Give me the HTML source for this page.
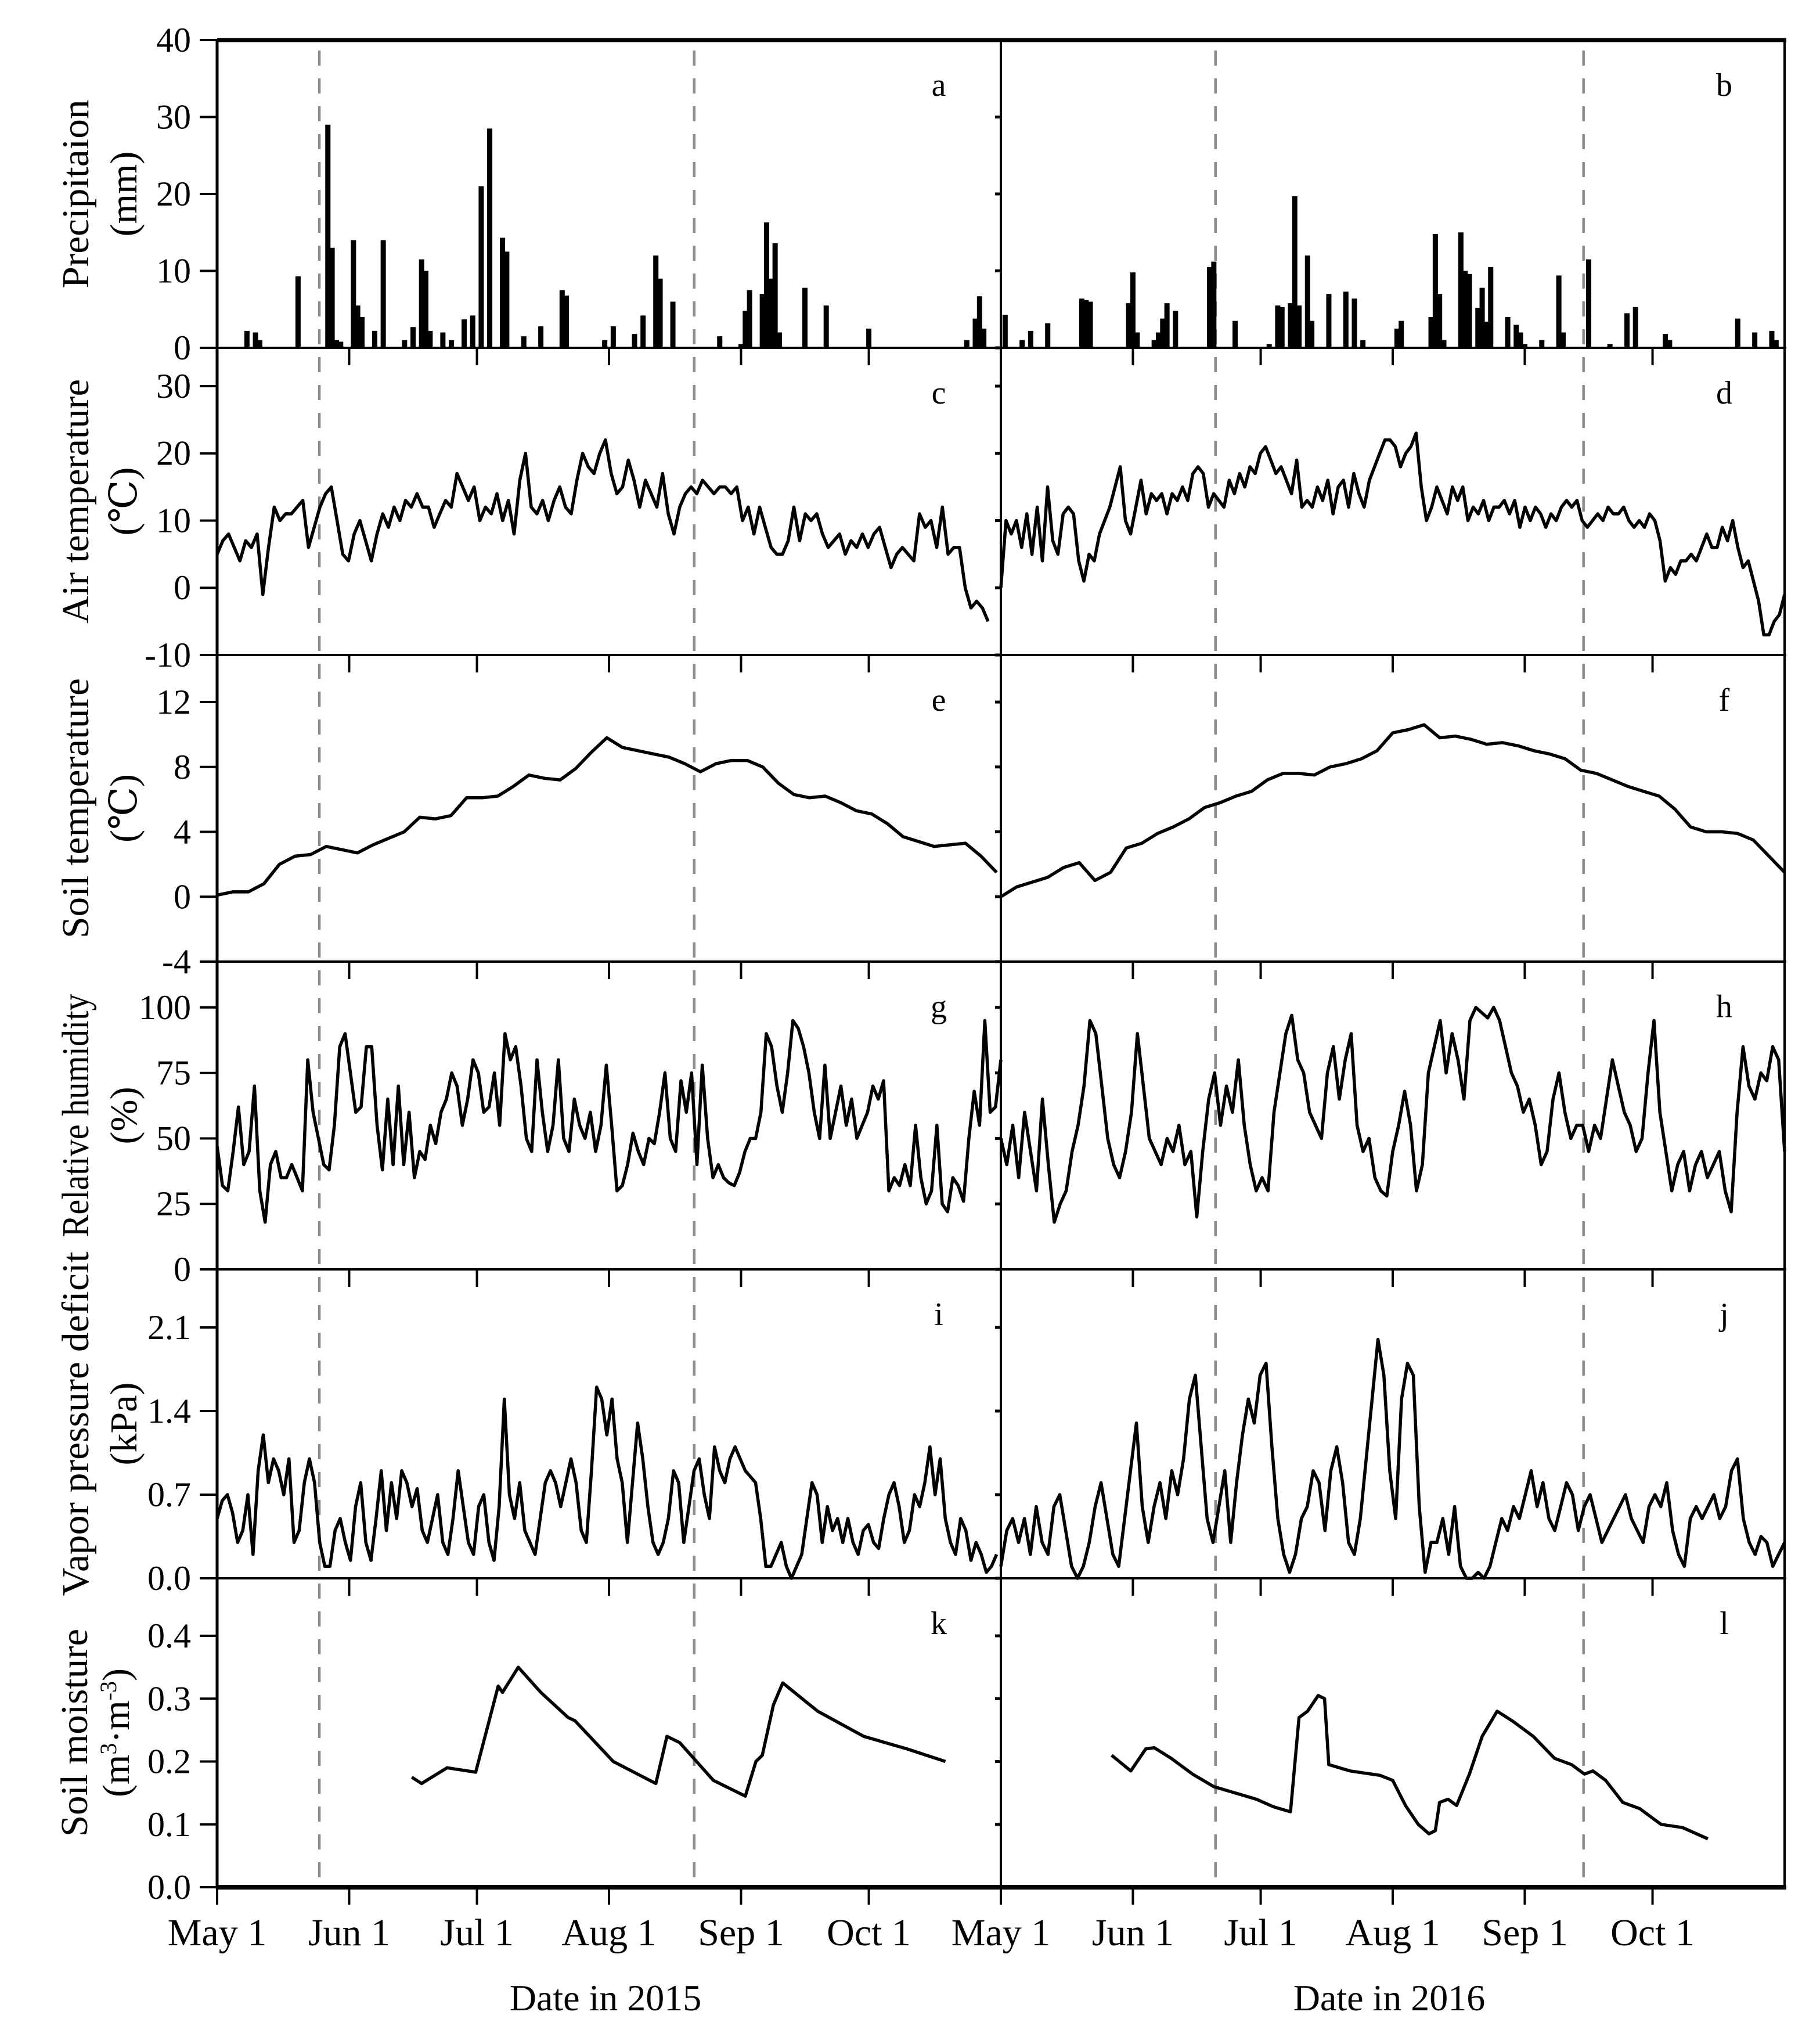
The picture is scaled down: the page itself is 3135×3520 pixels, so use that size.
<!DOCTYPE html>
<html><head><meta charset="utf-8"><style>
html,body{margin:0;padding:0;background:#fff}
svg{display:block}
text{font-family:"Liberation Serif","DejaVu Serif",serif;fill:#000}
</style></head><body>
<svg id="chart" width="3135" height="3520" viewBox="0 0 3135 3520" xmlns="http://www.w3.org/2000/svg">
<rect x="0" y="0" width="3135" height="3520" fill="#fff"/>
<g id="marks"></g>
</svg>
<script>
// ---- data ----
const monthLabels = ["May 1","Jun 1","Jul 1","Aug 1","Sep 1","Oct 1"];
const monthDays = [0,31,61,92,123,153];
const dashDays2015 = [24,112];
const dashDays2016 = [50.4,136.8];

const precipDays2015 = [7,9,10,19,26,27,28,29,32,33,34,37,39,44,46,48,49,50,53,55,58,60,62,64,67,68,72,76,81,82,91,93,98,100,103,104,107,118,123,124,125,128,129,130,131,132,138,143,153,176,178,179,180];
const precipVals2015 = [2.2,2.0,1,9.3,29,13,1,0.8,14,5.5,4,2.2,14,1,2.7,11.5,10,2.2,2,1,3.7,4.2,21,28.5,14.3,12.5,1.5,2.8,7.5,6.8,1,2.8,1.8,4.2,12,9,6,1.5,0.5,4.8,7.5,7,16.3,9,13.6,2,7.8,5.5,2.5,1,3.8,6.7,2.5];
const precipDays2016 = [1,5,7,11,19,20,21,30,31,32,36,37,38,39,41,49,50,55,63,65,66,68,69,70,72,73,77,81,83,85,93,94,101,102,103,104,108,109,110,112,113,114,115,119,121,122,123,127,131,132,138,143,147,149,156,157,173,177,181,182];
const precipVals2016 = [4.3,1,2.2,3.2,6.4,6.2,6,5.8,9.8,2,1,2,3.8,5.8,4.8,10.5,11.2,3.5,0.5,5.5,5.3,5.8,19.7,5.5,12,3.5,7,7.3,6.4,1,2.5,3.5,4,14.8,7,1,15,10,9.6,5.2,7.8,3.4,10.5,4,3,2,0.5,1,9.4,2,11.5,0.5,4.5,5.3,1.8,1,3.8,2,2.2,1];

const airT2015 = [5,7,8,6,4,7,6,8,-1,6,12,10,11,11,12,13,6,9,12,14,15,10,5,4,8,10,7,4,8,11,9,12,10,13,12,14,12,12,9,11,13,12,17,15,13,15,10,12,11,14,10,13,8,16,20,12,11,13,10,13,15,12,11,16,20,18,17,20,22,17,14,15,19,16,12,16,14,12,17,11,8,12,14,15,14,16,15,14,15,15,14,15,10,12,8,12,9,6,5,5,7,12,7,11,10,11,8,6,7,8,5,7,6,8,6,8,9,6,3,5,6,5,4,11,9,10,6,12,5,6,6,0,-3,-2,-3,-5];
const airT2016 = [0,10,8,10,6,11,5,12,4,15,7,5,11,12,11,4,1,5,4,8,10,12,15,18,10,8,12,16,11,14,13,14,11,14,13,15,13,17,18,17,12,14,13,12,16,14,17,15,18,17,20,21,19,17,18,16,14,19,12,13,12,15,13,16,11,15,16,12,17,14,12,16,18,20,22,22,21,18,20,21,23,15,10,12,15,13,11,15,13,15,10,12,11,13,10,12,12,13,11,13,9,12,10,12,11,9,11,10,12,13,12,13,10,9,10,11,10,12,11,11,12,10,9,10,9,11,10,7,1,3,2,4,4,5,4,6,8,6,6,9,7,10,6,3,4,1,-2,-7,-7,-5,-4,-1];

const soilT2015 = [0.1,0.3,0.3,0.8,2,2.5,2.6,3.1,2.9,2.7,3.2,3.6,4,4.9,4.8,5,6.1,6.1,6.2,6.8,7.5,7.3,7.2,7.9,8.9,9.8,9.2,9,8.8,8.6,8.2,7.7,8.2,8.4,8.4,8,7,6.3,6.1,6.2,5.8,5.3,5.1,4.5,3.7,3.4,3.1,3.2,3.3,2.5,1.5];
const soilT2016 = [0,0.6,0.9,1.2,1.8,2.1,1,1.5,3,3.3,3.9,4.3,4.8,5.5,5.8,6.2,6.5,7.2,7.6,7.6,7.5,8,8.2,8.5,9,10.1,10.3,10.6,9.8,9.9,9.7,9.4,9.5,9.3,9,8.8,8.5,7.8,7.6,7.2,6.8,6.5,6.2,5.4,4.3,4,4,3.9,3.5,2.5,1.5];

const rh2015 = [47,32,30,45,62,40,45,70,30,18,40,45,35,35,40,35,30,80,60,50,40,38,55,85,90,75,60,62,85,85,55,38,65,40,70,40,60,35,45,42,55,48,60,65,75,70,55,65,80,75,60,62,75,55,90,80,85,70,50,45,80,60,45,55,80,50,45,65,55,50,60,45,55,78,55,30,32,40,52,45,40,50,48,60,75,50,45,72,60,75,40,78,50,35,40,35,33,32,37,45,50,50,60,90,85,70,60,75,95,92,85,75,60,50,78,50,60,70,55,65,50,55,60,70,65,72,30,35,32,40,32,55,35,25,30,55,25,22,35,32,26,50,68,55,95,60,62,80];
const rh2016 = [50,40,55,35,60,45,30,65,40,18,25,30,45,55,70,95,90,70,50,40,35,45,60,90,70,50,45,40,50,45,55,40,45,20,45,65,75,55,70,60,80,55,40,30,35,30,60,75,90,97,80,75,60,55,50,75,85,65,80,90,55,45,50,35,30,28,45,55,68,55,30,40,75,85,95,75,90,80,65,95,100,98,96,100,95,85,75,70,60,65,55,40,45,65,75,60,50,55,55,45,55,50,65,80,70,60,55,45,50,75,95,60,45,30,40,45,30,40,45,35,40,45,30,22,60,85,70,65,75,72,85,80,45];

const vpd2015 = [0.5,0.65,0.7,0.55,0.3,0.4,0.7,0.2,0.9,1.2,0.8,1.0,0.9,0.7,1.0,0.3,0.4,0.8,1.0,0.8,0.3,0.1,0.1,0.4,0.5,0.3,0.15,0.6,0.8,0.3,0.15,0.5,0.9,0.4,0.8,0.5,0.9,0.8,0.6,0.75,0.4,0.3,0.5,0.7,0.3,0.2,0.5,0.9,0.6,0.3,0.2,0.6,0.7,0.3,0.15,0.6,1.5,0.7,0.5,0.8,0.4,0.3,0.2,0.5,0.8,0.9,0.8,0.6,0.8,1.0,0.8,0.4,0.3,0.9,1.6,1.5,1.2,1.5,1.0,0.8,0.3,0.8,1.3,1.0,0.6,0.3,0.2,0.3,0.5,0.9,0.8,0.3,0.6,0.9,1.0,0.7,0.5,1.1,0.9,0.8,1.0,1.1,1.0,0.9,0.85,0.8,0.5,0.1,0.1,0.2,0.3,0.1,0.0,0.1,0.2,0.5,0.8,0.7,0.3,0.6,0.4,0.5,0.3,0.5,0.3,0.2,0.4,0.45,0.3,0.25,0.5,0.7,0.8,0.6,0.3,0.4,0.7,0.6,0.8,1.1,0.7,1.0,0.5,0.3,0.2,0.5,0.4,0.15,0.3,0.2,0.05,0.1,0.2];
const vpd2016 = [0.1,0.4,0.5,0.3,0.5,0.2,0.6,0.3,0.2,0.6,0.7,0.4,0.1,0.0,0.1,0.3,0.6,0.8,0.5,0.2,0.1,0.5,0.9,1.3,0.6,0.3,0.6,0.8,0.5,0.9,0.7,1.0,1.5,1.7,1.1,0.5,0.3,0.6,0.9,0.3,0.8,1.2,1.5,1.3,1.7,1.8,1.1,0.5,0.2,0.05,0.2,0.5,0.6,0.9,0.8,0.4,0.9,1.1,0.8,0.3,0.2,0.5,1.0,1.5,2.0,1.7,0.9,0.5,1.5,1.8,1.7,0.6,0.05,0.3,0.3,0.5,0.2,0.6,0.1,0.0,0.0,0.05,0.0,0.1,0.3,0.5,0.4,0.6,0.5,0.7,0.9,0.6,0.8,0.5,0.4,0.6,0.8,0.7,0.4,0.6,0.7,0.5,0.3,0.4,0.5,0.6,0.7,0.5,0.4,0.3,0.6,0.7,0.6,0.8,0.4,0.2,0.1,0.5,0.6,0.5,0.6,0.7,0.5,0.6,0.9,1.0,0.5,0.3,0.2,0.35,0.3,0.1,0.2,0.3];

const smDays2015 = [45.7,48,54,60.7,66,67,70.7,76,82.4,84,93,103,105.6,108.6,116.5,124,126.5,128,130.6,132.8,141,151.8,162,171];
const smVals2015 = [0.175,0.165,0.19,0.183,0.32,0.31,0.35,0.31,0.27,0.265,0.2,0.165,0.24,0.23,0.17,0.145,0.2,0.21,0.29,0.325,0.28,0.24,0.22,0.2];
const smDays2016 = [26,30.5,34,36,40,45,50,55,60,64,68,70,72,74.5,76,77,82,89,92,95,98,100.5,102,103,105,107,110,113,116.5,120,125,130,134,137,139,142,146,150,155,160,166];
const smVals2016 = [0.21,0.185,0.22,0.222,0.205,0.18,0.16,0.15,0.14,0.128,0.12,0.27,0.28,0.305,0.3,0.195,0.185,0.178,0.17,0.13,0.1,0.085,0.09,0.135,0.14,0.13,0.18,0.24,0.28,0.265,0.24,0.205,0.195,0.18,0.185,0.17,0.135,0.125,0.1,0.095,0.077];

// ---- layout ----
const NS = "http://www.w3.org/2000/svg";
const g = document.getElementById('marks');
const X0 = [374, 1724], W = 1350, SPAN = 184;
const rowY = [69, 599, 1128, 1656, 2186, 2718, 3250];
const panels = [
  {min:0,max:40,ticks:[0,10,20,30,40],fmt:v=>String(v),t1:"Precipitaion",t2:"(mm)",L1:325,letters:["a","b"]},
  {min:-10,max:35.7,ticks:[-10,0,10,20,30],fmt:v=>String(v),t1:"Air temperature",t2:"(℃)",L1:421,letters:["c","d"]},
  {min:-4,max:14.9,ticks:[-4,0,4,8,12],fmt:v=>String(v),t1:"Soil temperature",t2:"(℃)",L1:448,letters:["e","f"]},
  {min:0,max:117.5,ticks:[0,25,50,75,100],fmt:v=>String(v),t1:"Relative humidity",t2:"(%)",L1:419,letters:["g","h"]},
  {min:0,max:2.586,ticks:[0,0.7,1.4,2.1],fmt:v=>v.toFixed(1),t1:"Vapor pressure deficit",t2:"(kPa)",L1:593,letters:["i","j"]},
  {min:0,max:0.4915,ticks:[0,0.1,0.2,0.3,0.4],fmt:v=>v.toFixed(1),t1:"Soil moisture",t2:null,L1:358,letters:["k","l"]}
];
function xs(yr,d){return X0[yr]+d*W/SPAN;}
function ys(p,v){const P=panels[p];const top=rowY[p],bot=rowY[p+1];return bot-(v-P.min)/(P.max-P.min)*(bot-top);}
function el(tag,attrs,parent){const e=document.createElementNS(NS,tag);for(const k in attrs)e.setAttribute(k,attrs[k]);(parent||g).appendChild(e);return e;}

// dashed lines
[[0,dashDays2015],[1,dashDays2016]].forEach(([yr,arr])=>{arr.forEach(d=>{
  const l=el('line',{x1:xs(yr,d),x2:xs(yr,d),y1:rowY[0]+18,y2:rowY[6],stroke:'#8a8a8a','stroke-width':4.5,'stroke-dasharray':'26,22'});
  
  
});});

// precipitation bars
function bars(yr,days,vals){vals.forEach((v,i)=>{
  const x=xs(yr,days[i]),y=ys(0,v);
  const r=el('rect',{x:x-4.5,y:y,width:9,height:ys(0,0)-y,fill:'#000'});
  
  
});}
bars(0,precipDays2015,precipVals2015);
bars(1,precipDays2016,precipVals2016);

// lines
function lineUniform(p,yr,vals,d0,d1,name){
  const n=vals.length;
  const pts=vals.map((v,i)=>xs(yr,d0+(d1-d0)*i/(n-1)).toFixed(1)+','+ys(p,v).toFixed(1)).join(' ');
  const l=el('polyline',{points:pts,fill:'none',stroke:'#000','stroke-width':5.5,'stroke-linejoin':'round'});
  
  
}
function lineXY(p,yr,days,vals,name){
  const pts=vals.map((v,i)=>xs(yr,days[i]).toFixed(1)+','+ys(p,v).toFixed(1)).join(' ');
  const l=el('polyline',{points:pts,fill:'none',stroke:'#000','stroke-width':5.5,'stroke-linejoin':'round'});
  
  
}
lineUniform(1,0,airT2015,0,181,'air-temp-2015-line');
lineUniform(1,1,airT2016,0,184,'air-temp-2016-line');
lineUniform(2,0,soilT2015,0,183,'soil-temp-2015-line');
lineUniform(2,1,soilT2016,0,184,'soil-temp-2016-line');
lineUniform(3,0,rh2015,0,184,'rh-2015-line');
lineUniform(3,1,rh2016,0,184,'rh-2016-line');
lineUniform(4,0,vpd2015,0,183,'vpd-2015-line');
lineUniform(4,1,vpd2016,0,184,'vpd-2016-line');
lineXY(5,0,smDays2015,smVals2015,'soil-moisture-2015-line');
lineXY(5,1,smDays2016,smVals2016,'soil-moisture-2016-line');

// frames, axes, ticks
panels.forEach((P,p)=>{
  const top=rowY[p],bot=rowY[p+1];
  const hl=el('line',{x1:X0[0],x2:X0[1]+W+3,y1:bot,y2:bot,stroke:'#000','stroke-width':p===5?8:4});
  
  
  [0,1].forEach(yr=>{monthDays.forEach(d=>{
    const t=el('line',{x1:xs(yr,d),x2:xs(yr,d),y1:bot,y2:bot+30,stroke:'#000','stroke-width':4});
    
    
  });});
  P.ticks.forEach(v=>{
    const y=ys(p,v);
    const t=el('line',{x1:X0[0]-30,x2:X0[0],y1:y,y2:y,stroke:'#000','stroke-width':4});
    
    
    const m=el('line',{x1:X0[1]-10,x2:X0[1],y1:y,y2:y,stroke:'#000','stroke-width':5});
    
    
    const tx=el('text',{x:X0[0]-45,y:y+20,'font-size':60,'text-anchor':'end'});
    tx.textContent=P.fmt(v);
    
    
  });
  P.letters.forEach((L,yr)=>{
    const t=el('text',{x:yr?2970:1617,y:top+96,'font-size':56,'text-anchor':'middle'});
    t.textContent=L;
    
    
  });
  const cy=(top+bot)/2;
  const t1=el('text',{x:0,y:0,'font-size':66,'text-anchor':'middle',textLength:P.L1,lengthAdjust:'spacingAndGlyphs',transform:`translate(${p===5?150:152},${cy}) rotate(-90)`});
  t1.textContent=P.t1;
  
  
  const t2=el('text',{x:0,y:0,'font-size':66,'text-anchor':'middle',transform:`translate(${p===5?222:235},${cy}) rotate(-90)`});
  if(P.t2){t2.textContent=P.t2;}
  else{
    t2.innerHTML='(m<tspan dy="-22" font-size="40">3</tspan><tspan dy="22">·m</tspan><tspan dy="-22" font-size="40">-3</tspan><tspan dy="22">)</tspan>';
  }
  
  
});
let a=el('line',{x1:X0[0],x2:X0[1]+W+3,y1:rowY[0],y2:rowY[0],stroke:'#000','stroke-width':7});


[[X0[0],'left-y-axis',5],[X0[1],'middle-divider',4],[X0[1]+W,'right-border',4]].forEach(([x,n,w])=>{
  const l=el('line',{x1:x,x2:x,y1:rowY[0],y2:rowY[6]+3,stroke:'#000','stroke-width':w});
  
  
});
[0,1].forEach(yr=>{monthLabels.forEach((m,i)=>{
  const t=el('text',{x:xs(yr,monthDays[i]),y:3350,'font-size':66,'text-anchor':'middle'});
  t.textContent=m;
  
  
});});
[["Date in 2015",1043],["Date in 2016",2393]].forEach(([s,x])=>{
  const t=el('text',{x:x,y:3462,'font-size':64,'text-anchor':'middle'});
  t.textContent=s;
  
  
});
</script>
</body></html>
